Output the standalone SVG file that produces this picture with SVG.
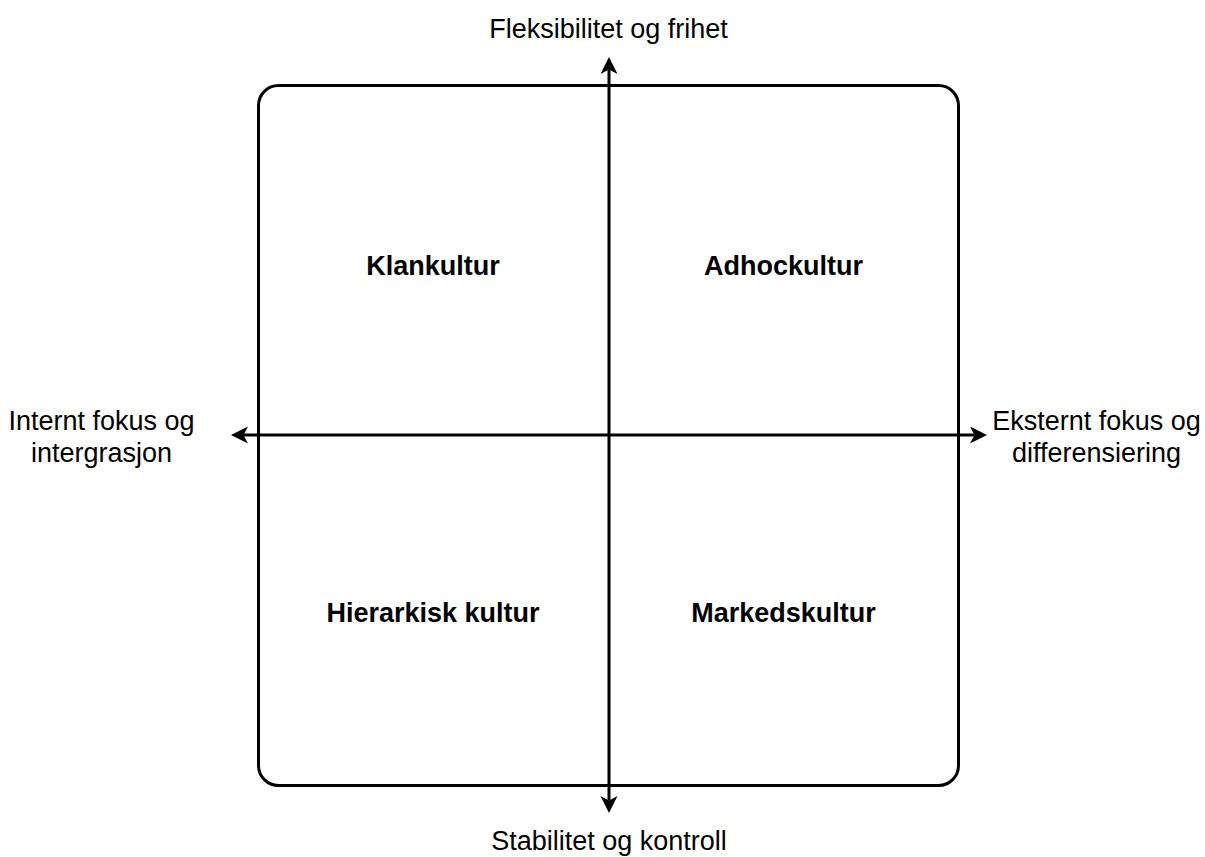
<svg xmlns="http://www.w3.org/2000/svg" width="1205" height="857" viewBox="0 0 1205 857">
  <style>
    .lbl { font-family: "Liberation Sans", Arial, Helvetica, sans-serif; font-size: 27px; fill: #000; text-anchor: middle; }
    .bold { font-weight: bold; }
    .axis { stroke: #000; stroke-width: 3; fill: none; }
    .frame { stroke: #000; stroke-width: 3; fill: #fff; }
  </style>
  <defs>
    <marker id="arrow" markerUnits="userSpaceOnUse" markerWidth="18" markerHeight="18" viewBox="0 0 18 18" refX="4.5" refY="8.5" orient="auto-start-reverse">
      <path d="M0,0 L17,8.5 L0,17 L4.5,8.5 Z" fill="#000"/>
    </marker>
  </defs>
  <rect width="1205" height="857" fill="#fff"/>
  <g id="frame">
    <rect class="frame" x="258.5" y="85.5" width="700" height="700" rx="20" ry="20"/>
  </g>
  <g id="connectors">
    <line class="axis" x1="609" y1="800.5" x2="609" y2="69.5" marker-start="url(#arrow)" marker-end="url(#arrow)"/>
    <line class="axis" x1="974.5" y1="435" x2="243.5" y2="435" marker-start="url(#arrow)" marker-end="url(#arrow)"/>
  </g>
  <g id="klankultur"><text class="lbl bold" x="433" y="275">Klankultur</text></g>
  <g id="adhockultur"><text class="lbl bold" x="783.5" y="275">Adhockultur</text></g>
  <g id="hierarkisk"><text class="lbl bold" x="433" y="622">Hierarkisk kultur</text></g>
  <g id="markedskultur"><text class="lbl bold" x="783.5" y="622">Markedskultur</text></g>
  <g id="top-label"><text class="lbl" x="608.5" y="38">Fleksibilitet og frihet</text></g>
  <g id="bottom-label"><text class="lbl" x="609" y="850">Stabilitet og kontroll</text></g>
  <g id="left-label">
    <text class="lbl" x="101.5" y="430">Internt fokus og</text>
    <text class="lbl" x="101.5" y="461.5">intergrasjon</text>
  </g>
  <g id="right-label">
    <text class="lbl" x="1096.5" y="430">Eksternt fokus og</text>
    <text class="lbl" x="1096.5" y="461.5">differensiering</text>
  </g>
</svg>
